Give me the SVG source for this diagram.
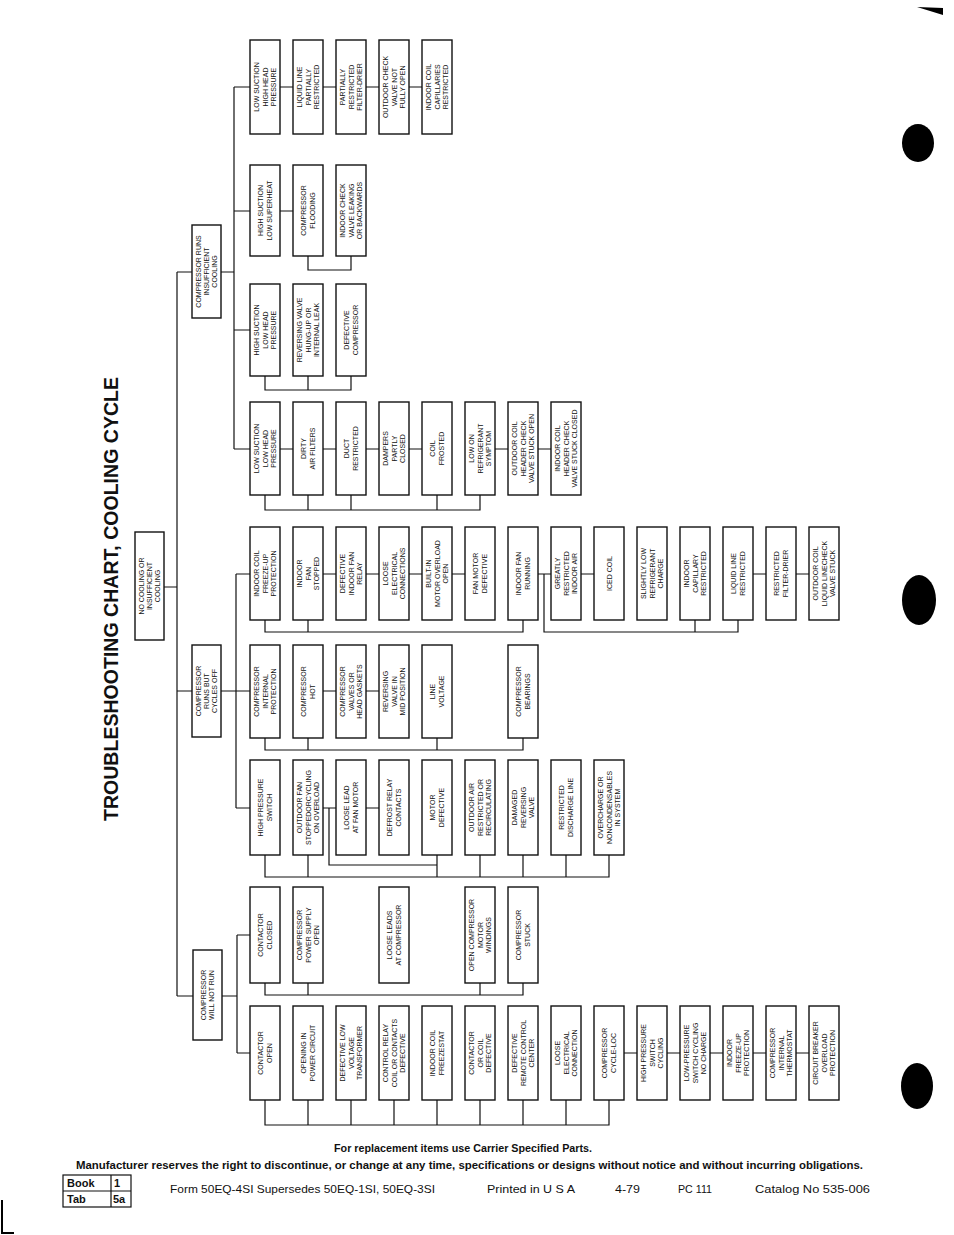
<svg xmlns="http://www.w3.org/2000/svg" width="954" height="1235" viewBox="0 0 954 1235">
<style>
.node rect{fill:#fff;stroke:#111;stroke-width:1.4}
.node text{font-family:"Liberation Sans",Arial,sans-serif;font-size:7px;text-anchor:middle;fill:#111}
.conn path{fill:none;stroke:#111;stroke-width:1.2}
.ft{font-family:"Liberation Sans",Arial,sans-serif;fill:#111}
</style>
<rect x="0" y="0" width="954" height="1235" fill="#fff"/>
<text class="ft" transform="translate(118,599) rotate(-90)" text-anchor="middle" font-size="20" font-weight="bold" textLength="444" lengthAdjust="spacingAndGlyphs">TROUBLESHOOTING CHART, COOLING CYCLE</text>

<g class="conn" id="connectors">
<path d="M164,587 H177 M177,272 V996 M177,272 H192 M221,272 H234 M177,691 H192 M221,691 H250 M177,996 H193 M222,996 H237"/>
<path d="M234,87 V449 M234,87 H250 M280,87 H293 M323,87 H336 M366,87 H379 M409,87 H422"/>
<path d="M234,211 H250 M280,211 H293 M308,256 V270 H351 V256"/>
<path d="M234,330 H250 M265,376 V390 H351 V376 M308,376 V390"/>
<path d="M234,449 H250 M280,449 H293 M323,449 H336 M366,449 H379 M409,449 H422 M495,449 H508 M538,449 H551 M265,495 V510 H480 V495 M308,495 V510 M351,495 V510 M437,495 V510"/>
<path d="M236,574 V808 M236,574 H250 M323,574 H336 M366,574 H379 M409,574 H422 M452,574 H465 M538,574 H551 M581,574 H594 M753,574 H766 M796,574 H809 M265,620 V632 H523 V620 M308,620 V632 M544,574 V632 H738 V620 M695,620 V632"/>
<path d="M323,691 H336 M366,691 H379 M265,738 V750 H523 V738 M308,738 V750 M437,738 V750"/>
<path d="M236,808 H250 M323,808 H336 M366,808 H379 M329,808 V865 H437 M265,855 V877 H609 V855 M308,855 V877 M437,855 V877 M480,855 V877 M523,855 V877 M566,855 V877"/>
<path d="M237,935 V1053 M237,935 H250 M265,983 V995 H523 V983 M308,983 V995 M480,983 V995"/>
<path d="M237,1053 H250 M624,1053 H637 M667,1053 H680 M710,1053 H723 M753,1053 H766 M796,1053 H809 M265,1100 V1125 H609 V1100 M308,1100 V1125 M351,1100 V1125 M394,1100 V1125 M437,1100 V1125 M480,1100 V1125 M523,1100 V1125 M566,1100 V1125"/>
</g>

<g class="node" id="root"><rect x="135" y="532" width="29" height="108"/><text transform="translate(149.5,586) rotate(-90)"><tspan x="0" y="-5.8">NO COOLING OR</tspan><tspan x="0" y="2.5">INSUFFICIENT</tspan><tspan x="0" y="10.8">COOLING</tspan></text></g>
<g class="node" id="runs-insufficient"><rect x="192" y="225" width="29" height="93"/><text transform="translate(206.5,271.5) rotate(-90)"><tspan x="0" y="-5.8">COMPRESSOR RUNS</tspan><tspan x="0" y="2.5">INSUFFICIENT</tspan><tspan x="0" y="10.8">COOLING</tspan></text></g>
<g class="node" id="runs-cycles-off"><rect x="192" y="645" width="29" height="92"/><text transform="translate(206.5,691) rotate(-90)"><tspan x="0" y="-5.8">COMPRESSOR</tspan><tspan x="0" y="2.5">RUNS BUT</tspan><tspan x="0" y="10.8">CYCLES OFF</tspan></text></g>
<g class="node" id="will-not-run"><rect x="193" y="950" width="29" height="90"/><text transform="translate(207.5,995) rotate(-90)"><tspan x="0" y="-1.65">COMPRESSOR</tspan><tspan x="0" y="6.65">WILL NOT RUN</tspan></text></g>

<!-- T1 -->
<g class="node" id="t1a"><rect x="250" y="40" width="30" height="94"/><text transform="translate(265,87) rotate(-90)"><tspan x="0" y="-5.8">LOW SUCTION</tspan><tspan x="0" y="2.5">HIGH HEAD</tspan><tspan x="0" y="10.8">PRESSURE</tspan></text></g>
<g class="node" id="t1b"><rect x="293" y="40" width="30" height="94"/><text transform="translate(308,87) rotate(-90)"><tspan x="0" y="-5.8">LIQUID LINE</tspan><tspan x="0" y="2.5">PARTIALLY</tspan><tspan x="0" y="10.8">RESTRICTED</tspan></text></g>
<g class="node" id="t1c"><rect x="336" y="40" width="30" height="94"/><text transform="translate(351,87) rotate(-90)"><tspan x="0" y="-5.8">PARTIALLY</tspan><tspan x="0" y="2.5">RESTRICTED</tspan><tspan x="0" y="10.8">FILTER-DRIER</tspan></text></g>
<g class="node" id="t1d"><rect x="379" y="40" width="30" height="94"/><text transform="translate(394,87) rotate(-90)"><tspan x="0" y="-5.8">OUTDOOR CHECK</tspan><tspan x="0" y="2.5">VALVE NOT</tspan><tspan x="0" y="10.8">FULLY OPEN</tspan></text></g>
<g class="node" id="t1e"><rect x="422" y="40" width="30" height="94"/><text transform="translate(437,87) rotate(-90)"><tspan x="0" y="-5.8">INDOOR COIL</tspan><tspan x="0" y="2.5">CAPILLARIES</tspan><tspan x="0" y="10.8">RESTRICTED</tspan></text></g>

<!-- T2 -->
<g class="node" id="t2a"><rect x="250" y="165" width="30" height="91"/><text transform="translate(265,210.5) rotate(-90)"><tspan x="0" y="-1.65">HIGH SUCTION</tspan><tspan x="0" y="6.65">LOW SUPERHEAT</tspan></text></g>
<g class="node" id="t2b"><rect x="293" y="165" width="30" height="91"/><text transform="translate(308,210.5) rotate(-90)"><tspan x="0" y="-1.65">COMPRESSOR</tspan><tspan x="0" y="6.65">FLOODING</tspan></text></g>
<g class="node" id="t2c"><rect x="336" y="165" width="30" height="91"/><text transform="translate(351,210.5) rotate(-90)"><tspan x="0" y="-5.8">INDOOR CHECK</tspan><tspan x="0" y="2.5">VALVE LEAKING</tspan><tspan x="0" y="10.8">OR BACKWARDS</tspan></text></g>

<!-- T3 -->
<g class="node" id="t3a"><rect x="250" y="284" width="30" height="92"/><text transform="translate(265,330) rotate(-90)"><tspan x="0" y="-5.8">HIGH SUCTION</tspan><tspan x="0" y="2.5">LOW HEAD</tspan><tspan x="0" y="10.8">PRESSURE</tspan></text></g>
<g class="node" id="t3b"><rect x="293" y="284" width="30" height="92"/><text transform="translate(308,330) rotate(-90)"><tspan x="0" y="-5.8">REVERSING VALVE</tspan><tspan x="0" y="2.5">HUNG-UP OR</tspan><tspan x="0" y="10.8">INTERNAL LEAK</tspan></text></g>
<g class="node" id="t3c"><rect x="336" y="284" width="30" height="92"/><text transform="translate(351,330) rotate(-90)"><tspan x="0" y="-1.65">DEFECTIVE</tspan><tspan x="0" y="6.65">COMPRESSOR</tspan></text></g>

<!-- T4 -->
<g class="node" id="t4a"><rect x="250" y="402" width="30" height="93"/><text transform="translate(265,448.5) rotate(-90)"><tspan x="0" y="-5.8">LOW SUCTION</tspan><tspan x="0" y="2.5">LOW HEAD</tspan><tspan x="0" y="10.8">PRESSURE</tspan></text></g>
<g class="node" id="t4b"><rect x="293" y="402" width="30" height="93"/><text transform="translate(308,448.5) rotate(-90)"><tspan x="0" y="-1.65">DIRTY</tspan><tspan x="0" y="6.65">AIR FILTERS</tspan></text></g>
<g class="node" id="t4c"><rect x="336" y="402" width="30" height="93"/><text transform="translate(351,448.5) rotate(-90)"><tspan x="0" y="-1.65">DUCT</tspan><tspan x="0" y="6.65">RESTRICTED</tspan></text></g>
<g class="node" id="t4d"><rect x="379" y="402" width="30" height="93"/><text transform="translate(394,448.5) rotate(-90)"><tspan x="0" y="-5.8">DAMPERS</tspan><tspan x="0" y="2.5">PARTLY</tspan><tspan x="0" y="10.8">CLOSED</tspan></text></g>
<g class="node" id="t4e"><rect x="422" y="402" width="30" height="93"/><text transform="translate(437,448.5) rotate(-90)"><tspan x="0" y="-1.65">COIL</tspan><tspan x="0" y="6.65">FROSTED</tspan></text></g>
<g class="node" id="t4f"><rect x="465" y="402" width="30" height="93"/><text transform="translate(480,448.5) rotate(-90)"><tspan x="0" y="-5.8">LOW ON</tspan><tspan x="0" y="2.5">REFRIGERANT</tspan><tspan x="0" y="10.8">SYMPTOM</tspan></text></g>
<g class="node" id="t4g"><rect x="508" y="402" width="30" height="93"/><text transform="translate(523,448.5) rotate(-90)"><tspan x="0" y="-5.8">OUTDOOR COIL</tspan><tspan x="0" y="2.5">HEADER CHECK</tspan><tspan x="0" y="10.8">VALVE STUCK OPEN</tspan></text></g>
<g class="node" id="t4h"><rect x="551" y="402" width="30" height="93"/><text transform="translate(566,448.5) rotate(-90)"><tspan x="0" y="-5.8">INDOOR COIL</tspan><tspan x="0" y="2.5">HEADER CHECK</tspan><tspan x="0" y="10.8">VALVE STUCK CLOSED</tspan></text></g>

<!-- C1 -->
<g class="node" id="c1a"><rect x="250" y="527" width="30" height="93"/><text transform="translate(265,573.5) rotate(-90)"><tspan x="0" y="-5.8">INDOOR COIL</tspan><tspan x="0" y="2.5">FREEZE-UP</tspan><tspan x="0" y="10.8">PROTECTION</tspan></text></g>
<g class="node" id="c1b"><rect x="293" y="527" width="30" height="93"/><text transform="translate(308,573.5) rotate(-90)"><tspan x="0" y="-5.8">INDOOR</tspan><tspan x="0" y="2.5">FAN</tspan><tspan x="0" y="10.8">STOPPED</tspan></text></g>
<g class="node" id="c1c"><rect x="336" y="527" width="30" height="93"/><text transform="translate(351,573.5) rotate(-90)"><tspan x="0" y="-5.8">DEFECTIVE</tspan><tspan x="0" y="2.5">INDOOR FAN</tspan><tspan x="0" y="10.8">RELAY</tspan></text></g>
<g class="node" id="c1d"><rect x="379" y="527" width="30" height="93"/><text transform="translate(394,573.5) rotate(-90)"><tspan x="0" y="-5.8">LOOSE</tspan><tspan x="0" y="2.5">ELECTRICAL</tspan><tspan x="0" y="10.8">CONNECTIONS</tspan></text></g>
<g class="node" id="c1e"><rect x="422" y="527" width="30" height="93"/><text transform="translate(437,573.5) rotate(-90)"><tspan x="0" y="-5.8">BUILT-IN</tspan><tspan x="0" y="2.5">MOTOR OVERLOAD</tspan><tspan x="0" y="10.8">OPEN</tspan></text></g>
<g class="node" id="c1f"><rect x="465" y="527" width="30" height="93"/><text transform="translate(480,573.5) rotate(-90)"><tspan x="0" y="-1.65">FAN MOTOR</tspan><tspan x="0" y="6.65">DEFECTIVE</tspan></text></g>
<g class="node" id="c1g"><rect x="508" y="527" width="30" height="93"/><text transform="translate(523,573.5) rotate(-90)"><tspan x="0" y="-1.65">INDOOR FAN</tspan><tspan x="0" y="6.65">RUNNING</tspan></text></g>
<g class="node" id="c1h"><rect x="551" y="527" width="30" height="93"/><text transform="translate(566,573.5) rotate(-90)"><tspan x="0" y="-5.8">GREATLY</tspan><tspan x="0" y="2.5">RESTRICTED</tspan><tspan x="0" y="10.8">INDOOR AIR</tspan></text></g>
<g class="node" id="c1i"><rect x="594" y="527" width="30" height="93"/><text transform="translate(609,573.5) rotate(-90)"><tspan x="0" y="2.5">ICED COIL</tspan></text></g>
<g class="node" id="c1j"><rect x="637" y="527" width="30" height="93"/><text transform="translate(652,573.5) rotate(-90)"><tspan x="0" y="-5.8">SLIGHTLY LOW</tspan><tspan x="0" y="2.5">REFRIGERANT</tspan><tspan x="0" y="10.8">CHARGE</tspan></text></g>
<g class="node" id="c1k"><rect x="680" y="527" width="30" height="93"/><text transform="translate(695,573.5) rotate(-90)"><tspan x="0" y="-5.8">INDOOR</tspan><tspan x="0" y="2.5">CAPILLARY</tspan><tspan x="0" y="10.8">RESTRICTED</tspan></text></g>
<g class="node" id="c1l"><rect x="723" y="527" width="30" height="93"/><text transform="translate(738,573.5) rotate(-90)"><tspan x="0" y="-1.65">LIQUID LINE</tspan><tspan x="0" y="6.65">RESTRICTED</tspan></text></g>
<g class="node" id="c1m"><rect x="766" y="527" width="30" height="93"/><text transform="translate(781,573.5) rotate(-90)"><tspan x="0" y="-1.65">RESTRICTED</tspan><tspan x="0" y="6.65">FILTER-DRIER</tspan></text></g>
<g class="node" id="c1n"><rect x="809" y="527" width="30" height="93"/><text transform="translate(824,573.5) rotate(-90)"><tspan x="0" y="-5.8">OUTDOOR COIL</tspan><tspan x="0" y="2.5">LIQUID LINECHECK</tspan><tspan x="0" y="10.8">VALVE STUCK</tspan></text></g>

<!-- C2 -->
<g class="node" id="c2a"><rect x="250" y="645" width="30" height="93"/><text transform="translate(265,691.5) rotate(-90)"><tspan x="0" y="-5.8">COMPRESSOR</tspan><tspan x="0" y="2.5">INTERNAL</tspan><tspan x="0" y="10.8">PROTECTION</tspan></text></g>
<g class="node" id="c2b"><rect x="293" y="645" width="30" height="93"/><text transform="translate(308,691.5) rotate(-90)"><tspan x="0" y="-1.65">COMPRESSOR</tspan><tspan x="0" y="6.65">HOT</tspan></text></g>
<g class="node" id="c2c"><rect x="336" y="645" width="30" height="93"/><text transform="translate(351,691.5) rotate(-90)"><tspan x="0" y="-5.8">COMPRESSOR</tspan><tspan x="0" y="2.5">VALVES OR</tspan><tspan x="0" y="10.8">HEAD GASKETS</tspan></text></g>
<g class="node" id="c2d"><rect x="379" y="645" width="30" height="93"/><text transform="translate(394,691.5) rotate(-90)"><tspan x="0" y="-5.8">REVERSING</tspan><tspan x="0" y="2.5">VALVE IN</tspan><tspan x="0" y="10.8">MID POSITION</tspan></text></g>
<g class="node" id="c2e"><rect x="422" y="645" width="30" height="93"/><text transform="translate(437,691.5) rotate(-90)"><tspan x="0" y="-1.65">LINE</tspan><tspan x="0" y="6.65">VOLTAGE</tspan></text></g>
<g class="node" id="c2g"><rect x="508" y="645" width="30" height="93"/><text transform="translate(523,691.5) rotate(-90)"><tspan x="0" y="-1.65">COMPRESSOR</tspan><tspan x="0" y="6.65">BEARINGS</tspan></text></g>

<!-- C3 -->
<g class="node" id="c3a"><rect x="250" y="760" width="30" height="95"/><text transform="translate(265,807.5) rotate(-90)"><tspan x="0" y="-1.65">HIGH PRESSURE</tspan><tspan x="0" y="6.65">SWITCH</tspan></text></g>
<g class="node" id="c3b"><rect x="293" y="760" width="30" height="95"/><text transform="translate(308,807.5) rotate(-90)"><tspan x="0" y="-5.8">OUTDOOR FAN</tspan><tspan x="0" y="2.5">STOPPEDORCYCLING</tspan><tspan x="0" y="10.8">ON OVERLOAD</tspan></text></g>
<g class="node" id="c3c"><rect x="336" y="760" width="30" height="95"/><text transform="translate(351,807.5) rotate(-90)"><tspan x="0" y="-1.65">LOOSE LEAD</tspan><tspan x="0" y="6.65">AT FAN MOTOR</tspan></text></g>
<g class="node" id="c3d"><rect x="379" y="760" width="30" height="95"/><text transform="translate(394,807.5) rotate(-90)"><tspan x="0" y="-1.65">DEFROST RELAY</tspan><tspan x="0" y="6.65">CONTACTS</tspan></text></g>
<g class="node" id="c3e"><rect x="422" y="760" width="30" height="95"/><text transform="translate(437,807.5) rotate(-90)"><tspan x="0" y="-1.65">MOTOR</tspan><tspan x="0" y="6.65">DEFECTIVE</tspan></text></g>
<g class="node" id="c3f"><rect x="465" y="760" width="30" height="95"/><text transform="translate(480,807.5) rotate(-90)"><tspan x="0" y="-5.8">OUTDOOR AIR</tspan><tspan x="0" y="2.5">RESTRICTED OR</tspan><tspan x="0" y="10.8">RECIRCULATING</tspan></text></g>
<g class="node" id="c3g"><rect x="508" y="760" width="30" height="95"/><text transform="translate(523,807.5) rotate(-90)"><tspan x="0" y="-5.8">DAMAGED</tspan><tspan x="0" y="2.5">REVERSING</tspan><tspan x="0" y="10.8">VALVE</tspan></text></g>
<g class="node" id="c3h"><rect x="551" y="760" width="30" height="95"/><text transform="translate(566,807.5) rotate(-90)"><tspan x="0" y="-1.65">RESTRICTED</tspan><tspan x="0" y="6.65">DISCHARGE LINE</tspan></text></g>
<g class="node" id="c3i"><rect x="594" y="760" width="30" height="95"/><text transform="translate(609,807.5) rotate(-90)"><tspan x="0" y="-5.8">OVERCHARGE OR</tspan><tspan x="0" y="2.5">NONCONDENSABLES</tspan><tspan x="0" y="10.8">IN SYSTEM</tspan></text></g>

<!-- W1 -->
<g class="node" id="w1a"><rect x="250" y="887" width="30" height="96"/><text transform="translate(265,935) rotate(-90)"><tspan x="0" y="-1.65">CONTACTOR</tspan><tspan x="0" y="6.65">CLOSED</tspan></text></g>
<g class="node" id="w1b"><rect x="293" y="887" width="30" height="96"/><text transform="translate(308,935) rotate(-90)"><tspan x="0" y="-5.8">COMPRESSOR</tspan><tspan x="0" y="2.5">POWER SUPPLY</tspan><tspan x="0" y="10.8">OPEN</tspan></text></g>
<g class="node" id="w1d"><rect x="379" y="887" width="30" height="96"/><text transform="translate(394,935) rotate(-90)"><tspan x="0" y="-1.65">LOOSE LEADS</tspan><tspan x="0" y="6.65">AT COMPRESSOR</tspan></text></g>
<g class="node" id="w1f"><rect x="465" y="887" width="30" height="96"/><text transform="translate(480,935) rotate(-90)"><tspan x="0" y="-5.8">OPEN COMPRESSOR</tspan><tspan x="0" y="2.5">MOTOR</tspan><tspan x="0" y="10.8">WINDINGS</tspan></text></g>
<g class="node" id="w1g"><rect x="508" y="887" width="30" height="96"/><text transform="translate(523,935) rotate(-90)"><tspan x="0" y="-1.65">COMPRESSOR</tspan><tspan x="0" y="6.65">STUCK</tspan></text></g>

<!-- W2 -->
<g class="node" id="w2a"><rect x="250" y="1006" width="30" height="94"/><text transform="translate(265,1053) rotate(-90)"><tspan x="0" y="-1.65">CONTACTOR</tspan><tspan x="0" y="6.65">OPEN</tspan></text></g>
<g class="node" id="w2b"><rect x="293" y="1006" width="30" height="94"/><text transform="translate(308,1053) rotate(-90)"><tspan x="0" y="-1.65">OPENING IN</tspan><tspan x="0" y="6.65">POWER CIRCUIT</tspan></text></g>
<g class="node" id="w2c"><rect x="336" y="1006" width="30" height="94"/><text transform="translate(351,1053) rotate(-90)"><tspan x="0" y="-5.8">DEFECTIVE LOW</tspan><tspan x="0" y="2.5">VOLTAGE</tspan><tspan x="0" y="10.8">TRANSFORMER</tspan></text></g>
<g class="node" id="w2d"><rect x="379" y="1006" width="30" height="94"/><text transform="translate(394,1053) rotate(-90)"><tspan x="0" y="-5.8">CONTROL RELAY</tspan><tspan x="0" y="2.5">COIL OR CONTACTS</tspan><tspan x="0" y="10.8">DEFECTIVE</tspan></text></g>
<g class="node" id="w2e"><rect x="422" y="1006" width="30" height="94"/><text transform="translate(437,1053) rotate(-90)"><tspan x="0" y="-1.65">INDOOR COIL</tspan><tspan x="0" y="6.65">FREEZESTAT</tspan></text></g>
<g class="node" id="w2f"><rect x="465" y="1006" width="30" height="94"/><text transform="translate(480,1053) rotate(-90)"><tspan x="0" y="-5.8">CONTACTOR</tspan><tspan x="0" y="2.5">OR COIL</tspan><tspan x="0" y="10.8">DEFECTIVE</tspan></text></g>
<g class="node" id="w2g"><rect x="508" y="1006" width="30" height="94"/><text transform="translate(523,1053) rotate(-90)"><tspan x="0" y="-5.8">DEFECTIVE</tspan><tspan x="0" y="2.5">REMOTE CONTROL</tspan><tspan x="0" y="10.8">CENTER</tspan></text></g>
<g class="node" id="w2h"><rect x="551" y="1006" width="30" height="94"/><text transform="translate(566,1053) rotate(-90)"><tspan x="0" y="-5.8">LOOSE</tspan><tspan x="0" y="2.5">ELECTRICAL</tspan><tspan x="0" y="10.8">CONNECTION</tspan></text></g>
<g class="node" id="w2i"><rect x="594" y="1006" width="30" height="94"/><text transform="translate(609,1053) rotate(-90)"><tspan x="0" y="-1.65">COMPRESSOR</tspan><tspan x="0" y="6.65">CYCLE-LOC</tspan></text></g>
<g class="node" id="w2j"><rect x="637" y="1006" width="30" height="94"/><text transform="translate(652,1053) rotate(-90)"><tspan x="0" y="-5.8">HIGH PRESSURE</tspan><tspan x="0" y="2.5">SWITCH</tspan><tspan x="0" y="10.8">CYCLING</tspan></text></g>
<g class="node" id="w2k"><rect x="680" y="1006" width="30" height="94"/><text transform="translate(695,1053) rotate(-90)"><tspan x="0" y="-5.8">LOW-PRESSURE</tspan><tspan x="0" y="2.5">SWITCH CYCLING</tspan><tspan x="0" y="10.8">NO CHARGE</tspan></text></g>
<g class="node" id="w2l"><rect x="723" y="1006" width="30" height="94"/><text transform="translate(738,1053) rotate(-90)"><tspan x="0" y="-5.8">INDOOR</tspan><tspan x="0" y="2.5">FREEZE-UP</tspan><tspan x="0" y="10.8">PROTECTION</tspan></text></g>
<g class="node" id="w2m"><rect x="766" y="1006" width="30" height="94"/><text transform="translate(781,1053) rotate(-90)"><tspan x="0" y="-5.8">COMPRESSOR</tspan><tspan x="0" y="2.5">INTERNAL</tspan><tspan x="0" y="10.8">THERMOSTAT</tspan></text></g>
<g class="node" id="w2n"><rect x="809" y="1006" width="30" height="94"/><text transform="translate(824,1053) rotate(-90)"><tspan x="0" y="-5.8">CIRCUIT BREAKER</tspan><tspan x="0" y="2.5">OVERLOAD</tspan><tspan x="0" y="10.8">PROTECTION</tspan></text></g>

<g id="footer">
<text class="ft" x="463" y="1152" text-anchor="middle" font-size="10.5" font-weight="bold" textLength="258" lengthAdjust="spacingAndGlyphs">For replacement items use Carrier Specified Parts.</text>
<text class="ft" x="76" y="1169" font-size="10.5" font-weight="bold" textLength="787" lengthAdjust="spacingAndGlyphs">Manufacturer reserves the right to discontinue, or change at any time, specifications or designs without notice and without incurring obligations.</text>
<rect x="63" y="1175" width="68" height="32" fill="none" stroke="#111" stroke-width="1.2"/>
<path d="M63,1191 H131 M111,1175 V1207" stroke="#111" stroke-width="1.2" fill="none"/>
<text class="ft" x="67" y="1187" font-size="11" font-weight="bold">Book</text>
<text class="ft" x="114" y="1187" font-size="11" font-weight="bold">1</text>
<text class="ft" x="67" y="1203" font-size="11" font-weight="bold">Tab</text>
<text class="ft" x="113" y="1203" font-size="11" font-weight="bold">5a</text>
<text class="ft" x="170" y="1193" font-size="11.5" textLength="265" lengthAdjust="spacingAndGlyphs">Form 50EQ-4SI  Supersedes 50EQ-1SI, 50EQ-3SI</text>
<text class="ft" x="487" y="1193" font-size="11.5" textLength="88" lengthAdjust="spacingAndGlyphs">Printed in U S A</text>
<text class="ft" x="615" y="1193" font-size="11.5" textLength="25" lengthAdjust="spacingAndGlyphs">4-79</text>
<text class="ft" x="678" y="1193" font-size="11.5" textLength="34" lengthAdjust="spacingAndGlyphs">PC 111</text>
<text class="ft" x="755" y="1193" font-size="11.5" textLength="115" lengthAdjust="spacingAndGlyphs">Catalog No 535-006</text>
</g>

<g id="scan-marks" fill="#000">
<polygon points="917,7 943,8 943,15"/>
<ellipse cx="918" cy="143" rx="16" ry="19"/>
<ellipse cx="919" cy="600" rx="17" ry="25"/>
<ellipse cx="917" cy="1086" rx="16" ry="23"/>
<path d="M2,1200 V1233 H14" fill="none" stroke="#000" stroke-width="2"/>
</g>
</svg>
